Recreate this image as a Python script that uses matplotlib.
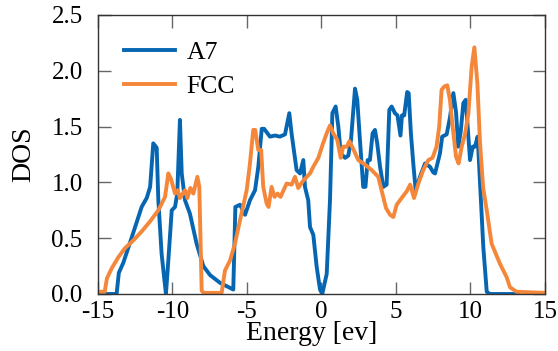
import matplotlib
matplotlib.use("Agg")
import matplotlib.pyplot as plt
import numpy as np

# A7 density of states
a7_energy = [
    -15.0, -13.75, -13.6, -13.3, -12.63, -12.07, -11.73, -11.5, -11.29, -11.06,
    -10.95, -10.73, -10.44, -10.28, -10.05, -9.83, -9.68, -9.5, -9.38, -9.16,
    -8.83, -8.38, -7.93, -7.48, -6.81, -5.92, -5.78, -5.47, -5.13, -4.8,
    -4.46, -4.24, -4.01, -3.85, -3.46, -3.12, -2.79, -2.45, -2.16, -2.0,
    -1.67, -1.44, -1.22, -1.11, -0.89, -0.77, -0.55, -0.32, -0.1, 0.05,
    0.35, 0.57, 0.73, 0.95, 1.13, 1.29, 1.58, 1.8, 1.98, 2.25,
    2.4, 2.58, 2.8, 2.95, 3.1, 3.25, 3.43, 3.59, 3.74, 3.93,
    4.15, 4.37, 4.55, 4.71, 4.93, 5.1, 5.3, 5.4, 5.55, 5.75,
    5.85, 6.0, 6.16, 6.32, 6.61, 6.95, 7.28, 7.5, 7.62, 7.95,
    8.1, 8.4, 8.62, 8.85, 9.03, 9.18, 9.34, 9.52, 9.68, 9.81,
    9.97, 10.15, 10.3, 10.48, 10.6, 10.86, 11.09, 11.3, 13.2,
]
a7_dos = [
    0.0, 0.0, 0.19, 0.28, 0.55, 0.78, 0.86, 0.96, 1.35, 1.31,
    0.84, 0.36, 0.0, 0.3, 0.75, 0.78, 0.9, 1.56, 1.08, 0.84,
    0.72, 0.45, 0.25, 0.17, 0.1, 0.04, 0.78, 0.8, 0.71, 0.84,
    0.93, 1.14, 1.48, 1.48, 1.41, 1.42, 1.41, 1.43, 1.62, 1.43,
    1.11, 1.08, 1.2, 0.96, 0.84, 0.6, 0.53, 0.24, 0.04, 0.0,
    0.18, 0.84, 1.62, 1.68, 1.5, 1.26, 1.22, 1.24, 1.38, 1.84,
    1.74, 1.38, 0.96, 0.96, 1.2, 1.2, 1.44, 1.47, 1.35, 1.14,
    0.96, 0.98, 1.65, 1.68, 1.62, 1.6, 1.42, 1.6, 1.6, 1.81,
    1.8, 1.44, 1.17, 0.93, 1.05, 1.17, 1.14, 1.09, 1.08, 1.26,
    1.41, 1.43, 1.58, 1.8, 1.63, 1.32, 1.45, 1.71, 1.74, 1.5,
    1.2, 1.32, 1.32, 1.41, 1.1, 0.42, 0.02, 0.0, 0.0,
]

# FCC density of states
fcc_energy = [
    -15.0, -14.55, -14.4, -14.08, -13.63, -13.19, -12.63, -12.07, -11.51, -10.95,
    -10.5, -10.28, -10.1, -9.83, -9.65, -9.5, -9.16, -9.0, -8.8, -8.6,
    -8.33, -8.2, -8.04, -7.9, -6.7, -6.48, -6.14, -5.81, -5.47, -5.02,
    -4.8, -4.58, -4.45, -4.24, -4.05, -3.91, -3.68, -3.55, -3.35, -3.15,
    -2.95, -2.75, -2.34, -2.0, -1.78, -1.56, -1.2, -0.77, -0.55, -0.21,
    0.08, 0.35, 0.57, 0.79, 1.06, 1.29, 1.46, 1.7, 1.87, 2.13,
    2.47, 2.92, 3.37, 3.81, 4.03, 4.33, 4.6, 4.82, 5.05, 5.38,
    5.72, 5.95, 6.21, 6.5, 6.83, 7.17, 7.45, 7.72, 7.9, 8.06,
    8.25, 8.44, 8.62, 8.8, 9.03, 9.2, 9.41, 9.63, 9.86, 10.08,
    10.26, 10.46, 10.64, 10.85, 11.09, 11.42, 11.98, 12.43, 12.65, 13.1,
    15.0,
]
fcc_dos = [
    0.02, 0.02, 0.14, 0.23, 0.33, 0.41, 0.48, 0.56, 0.65, 0.75,
    0.87, 1.08, 1.03, 0.9, 0.93, 0.86, 0.93, 0.86, 0.95, 0.9,
    1.05, 0.96, 0.03, 0.01, 0.01, 0.21, 0.3, 0.45, 0.66, 0.93,
    1.17, 1.47, 1.47, 1.29, 1.29, 0.96, 0.81, 0.78, 0.96, 0.87,
    0.9, 0.87, 0.99, 0.98, 1.05, 0.95, 1.02, 1.08, 1.14, 1.22,
    1.34, 1.44, 1.51, 1.44, 1.38, 1.22, 1.32, 1.32, 1.37, 1.3,
    1.2, 1.16, 1.11, 1.05, 0.93, 0.77, 0.71, 0.69, 0.8, 0.86,
    0.92, 0.98, 0.86, 0.99, 1.11, 1.2, 1.22, 1.32, 1.5, 1.83,
    1.86, 1.87, 1.74, 1.5, 1.23, 1.17, 1.32, 1.43, 1.62, 2.04,
    2.21, 1.89, 1.35, 0.95, 0.75, 0.45, 0.27, 0.15, 0.06, 0.02,
    0.01,
]

x_ticks = [-15, -10, -5, 0, 5, 10, 15]
y_ticks = [0.0, 0.5, 1.0, 1.5, 2.0, 2.5]

plt.rcParams["font.family"] = ["Liberation Serif", "DejaVu Serif"]

fig = plt.figure(figsize=(5.58, 3.51), dpi=100)
ax = fig.add_axes([0.1756, 0.1624, 0.8011, 0.7949])

ax.plot(a7_energy, a7_dos, color="#0766B1", lw=2.8, label="A7")
ax.plot(fcc_energy, fcc_dos, color="#F4873A", lw=2.8, label="FCC")

ax.set_xlim(-15, 15)
ax.set_ylim(0, 2.5)
ax.set_xticks(x_ticks)
ax.set_yticks(y_ticks)
ax.set_xticklabels([str(t) for t in x_ticks])
ax.set_yticklabels([f"{t:.1f}" for t in y_ticks])

ax.tick_params(direction="in", length=9, width=1.0, color="#666666",
               top=True, right=True, labelsize=18)
ax.tick_params(axis="x", pad=5)
ax.tick_params(axis="y", pad=11)
for spine in ax.spines.values():
    spine.set_color("#333333")
    spine.set_linewidth(1.0)

ax.set_xlabel("Energy [ev]", fontsize=20)
ax.xaxis.set_label_coords(0.479, -0.098, transform=ax.transAxes)
ax.xaxis.label.set_va("top")
ax.set_ylabel("DOS", fontsize=20, labelpad=11)

ax.legend(loc="upper left", frameon=False, fontsize=18.5, handlelength=2.0,
          handletextpad=0.45, labelspacing=0.45, borderaxespad=0.5,
          borderpad=0.5)

fig.savefig("out.png", dpi=100)
